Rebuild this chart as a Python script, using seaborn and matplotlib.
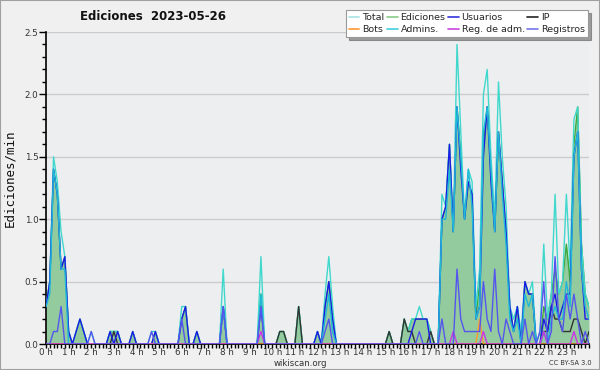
import numpy as np
import pandas as pd
import matplotlib
matplotlib.use("Agg")
import matplotlib.pyplot as plt
from matplotlib.lines import Line2D
from matplotlib.patches import Rectangle
from matplotlib.ticker import MultipleLocator
import seaborn as sns

# ---- data: edits per minute in 10-minute slots (one row = one hour) ----
total = [
    0.3, 0.5, 1.5, 1.3, 0.9, 0.7,
    0.1, 0, 0.1, 0.2, 0.1, 0,
    0.1, 0, 0, 0, 0, 0.1,
    0.1, 0.1, 0, 0, 0, 0.1,
    0, 0, 0, 0, 0.1, 0.1,
    0, 0, 0, 0, 0, 0,
    0.3, 0.3, 0, 0, 0.1, 0,
    0, 0, 0, 0, 0, 0.6,
    0, 0, 0, 0, 0, 0,
    0, 0, 0, 0.7, 0, 0,
    0, 0, 0.1, 0.1, 0, 0,
    0, 0.3, 0, 0, 0, 0,
    0.1, 0, 0.4, 0.7, 0.3, 0,
    0, 0, 0, 0, 0, 0,
    0, 0, 0, 0, 0, 0,
    0, 0.1, 0, 0, 0, 0.2,
    0.1, 0.2, 0.2, 0.3, 0.2, 0.2,
    0.1, 0, 0, 1.2, 1.1, 1.6,
    0.9, 2.4, 1.7, 1.0, 1.4, 1.3,
    0.3, 0.6, 2.0, 2.2, 1.5, 1.0,
    2.1, 1.5, 1.1, 0.3, 0.2, 0.3,
    0.1, 0.5, 0.4, 0.5, 0, 0.1,
    0.8, 0.2, 0.4, 1.2, 0.4, 0.5,
    1.2, 0.6, 1.8, 1.9, 0.8, 0.4,
    0.3]
ediciones = [
    0.3, 0.5, 1.4, 1.2, 0.6, 0.7,
    0.1, 0, 0.1, 0.2, 0.1, 0,
    0, 0, 0, 0, 0, 0.1,
    0.1, 0.1, 0, 0, 0, 0.1,
    0, 0, 0, 0, 0, 0.1,
    0, 0, 0, 0, 0, 0,
    0.2, 0.3, 0, 0, 0.1, 0,
    0, 0, 0, 0, 0, 0.3,
    0, 0, 0, 0, 0, 0,
    0, 0, 0, 0.4, 0, 0,
    0, 0, 0.1, 0.1, 0, 0,
    0, 0.3, 0, 0, 0, 0,
    0.1, 0, 0.3, 0.5, 0.2, 0,
    0, 0, 0, 0, 0, 0,
    0, 0, 0, 0, 0, 0,
    0, 0.1, 0, 0, 0, 0.2,
    0.1, 0.2, 0.2, 0.2, 0.2, 0.2,
    0.1, 0, 0, 1.0, 1.1, 1.6,
    0.9, 1.9, 1.5, 1.0, 1.3, 1.2,
    0.2, 0.5, 1.6, 1.9, 1.4, 0.9,
    1.7, 1.3, 0.9, 0.3, 0.1, 0.3,
    0, 0.5, 0.4, 0.4, 0, 0,
    0.3, 0.2, 0.4, 0.6, 0.4, 0.5,
    0.8, 0.5, 1.6, 1.9, 0.8, 0.4,
    0.3]
usuarios = [
    0.3, 0.5, 1.4, 1.2, 0.6, 0.7,
    0.1, 0, 0.1, 0.2, 0.1, 0,
    0, 0, 0, 0, 0, 0.1,
    0, 0.1, 0, 0, 0, 0.1,
    0, 0, 0, 0, 0, 0.1,
    0, 0, 0, 0, 0, 0,
    0.2, 0.3, 0, 0, 0.1, 0,
    0, 0, 0, 0, 0, 0.3,
    0, 0, 0, 0, 0, 0,
    0, 0, 0, 0.3, 0, 0,
    0, 0, 0, 0, 0, 0,
    0, 0, 0, 0, 0, 0,
    0.1, 0, 0.3, 0.5, 0.2, 0,
    0, 0, 0, 0, 0, 0,
    0, 0, 0, 0, 0, 0,
    0, 0, 0, 0, 0, 0,
    0, 0.1, 0.2, 0.2, 0.2, 0.2,
    0, 0, 0, 1.0, 1.1, 1.6,
    0.9, 1.9, 1.4, 1.0, 1.3, 1.2,
    0.2, 0.3, 1.5, 1.9, 1.3, 0.9,
    1.7, 1.3, 0.9, 0.3, 0.1, 0.3,
    0, 0.5, 0.4, 0.4, 0, 0,
    0.2, 0.1, 0.3, 0.4, 0.2, 0.3,
    0.4, 0.4, 1.5, 1.7, 0.6, 0.2,
    0.2]
admins = [
    0.3, 0.4, 1.4, 1.2, 0.6, 0.6,
    0, 0, 0, 0, 0, 0,
    0, 0, 0, 0, 0, 0,
    0, 0, 0, 0, 0, 0,
    0, 0, 0, 0, 0, 0,
    0, 0, 0, 0, 0, 0,
    0, 0, 0, 0, 0, 0,
    0, 0, 0, 0, 0, 0.3,
    0, 0, 0, 0, 0, 0,
    0, 0, 0, 0.4, 0, 0,
    0, 0, 0, 0, 0, 0,
    0, 0, 0, 0, 0, 0,
    0, 0, 0.2, 0.4, 0.1, 0,
    0, 0, 0, 0, 0, 0,
    0, 0, 0, 0, 0, 0,
    0, 0, 0, 0, 0, 0,
    0, 0, 0, 0, 0, 0,
    0, 0, 0, 1.0, 1.0, 1.4,
    0.9, 1.9, 1.5, 1.0, 1.4, 1.1,
    0.2, 0.3, 1.7, 1.9, 1.4, 0.9,
    1.7, 1.2, 0.8, 0.2, 0.1, 0.2,
    0, 0.4, 0.3, 0.4, 0, 0,
    0.1, 0, 0.2, 0.3, 0.2, 0.2,
    0.5, 0.3, 1.5, 1.7, 0.6, 0.3,
    0.2]
ip = [
    0, 0, 0, 0, 0, 0,
    0, 0, 0, 0, 0, 0,
    0, 0, 0, 0, 0, 0,
    0.1, 0, 0, 0, 0, 0,
    0, 0, 0, 0, 0, 0,
    0, 0, 0, 0, 0, 0,
    0, 0, 0, 0, 0, 0,
    0, 0, 0, 0, 0, 0,
    0, 0, 0, 0, 0, 0,
    0, 0, 0, 0, 0, 0,
    0, 0, 0.1, 0.1, 0, 0,
    0, 0.3, 0, 0, 0, 0,
    0, 0, 0, 0, 0, 0,
    0, 0, 0, 0, 0, 0,
    0, 0, 0, 0, 0, 0,
    0, 0.1, 0, 0, 0, 0.2,
    0.1, 0.1, 0, 0, 0, 0,
    0.1, 0, 0, 0, 0, 0,
    0, 0, 0, 0, 0, 0,
    0, 0, 0, 0, 0, 0,
    0, 0, 0, 0, 0, 0,
    0, 0, 0, 0, 0, 0,
    0.1, 0.1, 0.3, 0.2, 0.2, 0.1,
    0.1, 0.1, 0.2, 0.2, 0.1, 0,
    0.1]
bots = [0] * 115 + [0.2] + [0] * 29
reg_adm = [0] * 145
for _i in (57, 108, 116, 132, 140):
    reg_adm[_i] = 0.1
registros = [
    0, 0, 0.1, 0.1, 0.3, 0,
    0, 0, 0, 0, 0, 0,
    0.1, 0, 0, 0, 0, 0,
    0, 0, 0, 0, 0, 0,
    0, 0, 0, 0, 0.1, 0,
    0, 0, 0, 0, 0, 0,
    0.2, 0, 0, 0, 0, 0,
    0, 0, 0, 0, 0, 0.3,
    0, 0, 0, 0, 0, 0,
    0, 0, 0, 0.3, 0, 0,
    0, 0, 0, 0, 0, 0,
    0, 0, 0, 0, 0, 0,
    0, 0, 0.1, 0.2, 0, 0,
    0, 0, 0, 0, 0, 0,
    0, 0, 0, 0, 0, 0,
    0, 0, 0, 0, 0, 0,
    0, 0, 0, 0.1, 0, 0,
    0, 0, 0, 0.2, 0, 0,
    0, 0.6, 0.2, 0.1, 0.1, 0.1,
    0.1, 0.1, 0.5, 0.2, 0.1, 0.6,
    0.1, 0, 0.2, 0.1, 0, 0,
    0, 0.2, 0, 0.1, 0, 0.1,
    0.5, 0, 0.1, 0.7, 0.2, 0.1,
    0.4, 0.2, 0.4, 0.2, 0, 0.1,
    0]

hour_labels = [f"{h} h" for h in range(24)]
title = "Ediciones  2023-05-26"
ylabel = "Ediciones/min"

hours = np.arange(len(total)) / 6.0

# ---- style ----
sns.set_style("ticks")
plt.rcParams["font.family"] = ["DejaVu Sans"]

fig = plt.figure(figsize=(6, 3.7), dpi=100, facecolor="#f0f0f0")
ax = fig.add_axes([46 / 600, 1 - 344 / 370, 543 / 600, 312 / 370])
ax.set_facecolor("#edeef0")

# border of the whole image
fig.patches.append(Rectangle((0, 0), 1, 1, transform=fig.transFigure,
                             fill=False, edgecolor="#a0a0a0", lw=1.5))

for y in [0.5, 1.0, 1.5, 2.0, 2.5]:
    ax.axhline(y, color="#cccccc", lw=1.0, zorder=0)

# Ediciones filled area
ax.fill_between(hours, ediciones, color="#8fc99a", alpha=0.95, lw=0, zorder=1)

series = [
    (ediciones, "#3aa83a", 1.0),
    (total, "#40d8cc", 1.0),
    (ip, "#333333", 1.0),
    (usuarios, "#1a1ae6", 1.0),
    (admins, "#20b8d8", 1.0),
    (bots, "#ff9a30", 1.0),
    (reg_adm, "#cc33e6", 1.0),
    (registros, "#5555ee", 1.0),
]
for vals, col, lw in series:
    sns.lineplot(x=hours, y=vals, color=col, lw=lw, ax=ax, zorder=3,
                 estimator=None, errorbar=None)

ax.set_xlim(0, 24)
ax.set_ylim(0, 2.5)
ax.set_xticks(range(24))
ax.set_xticklabels(hour_labels)
ax.xaxis.set_minor_locator(MultipleLocator(1 / 6))
ax.yaxis.set_major_locator(MultipleLocator(0.5))
ax.yaxis.set_minor_locator(MultipleLocator(0.1))
ax.set_yticklabels([f"{v:.1f}" for v in ax.get_yticks()])
ax.tick_params(axis="y", which="major", labelsize=6.3, colors="black",
               labelcolor="#333333", length=5, width=1, pad=0.5)
ax.tick_params(axis="x", which="major", labelsize=6.3, colors="black",
               labelcolor="#333333", length=3, width=1, pad=0)
ax.tick_params(axis="both", which="minor", length=3, width=1, colors="black")
for s in ["top", "right"]:
    ax.spines[s].set_visible(False)
for s in ["left", "bottom"]:
    ax.spines[s].set_color("black")
    ax.spines[s].set_linewidth(1.2)
ax.set_xlabel("")
ax.set_ylabel("")

fig.text(153 / 600, 1 - 17 / 370, title, ha="center", va="center",
         fontsize=8.5, fontweight="bold", color="#111111")
fig.text(10 / 600, 1 - 178 / 370, ylabel, rotation=90, ha="center",
         va="center", fontsize=9, family="DejaVu Sans Mono", color="#111111")
fig.text(300 / 600, 1 - 363 / 370, "wikiscan.org", ha="center", va="center",
         fontsize=6.2, color="#333333")
fig.text(570 / 600, 1 - 363 / 370, "CC BY-SA 3.0", ha="center", va="center",
         fontsize=4.8, color="#333333")

leg_items = [
    ("Total", "#a8e4e4"), ("Bots", "#ff9a30"),
    ("Ediciones", "#88cc88"), ("Admins.", "#44ccdd"),
    ("Usuarios", "#3333dd"), ("Reg. de adm.", "#cc44dd"),
    ("IP", "#222222"), ("Registros", "#7777ee"),
]
handles = [Line2D([0], [0], color=c, lw=1.2) for _, c in leg_items]
labels = [l for l, _ in leg_items]
leg = fig.legend(handles, labels, ncol=4, loc="upper right",
                 bbox_to_anchor=(588 / 600, 1 - 10 / 370),
                 fontsize=6.8, frameon=True, fancybox=False, shadow=True,
                 handlelength=1.1, handletextpad=0.3, columnspacing=0.3,
                 labelspacing=0.3, borderpad=0.35, borderaxespad=0)
leg.get_frame().set_edgecolor("#999999")
leg.get_frame().set_linewidth(0.8)
leg.get_frame().set_facecolor("white")
leg.set_zorder(10)

fig.savefig("out.png", dpi=100, facecolor=fig.get_facecolor())
